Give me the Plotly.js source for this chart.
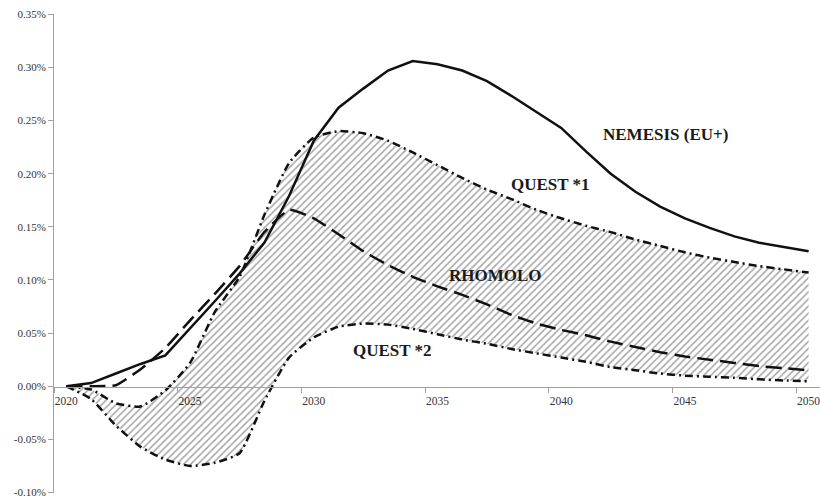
<!DOCTYPE html>
<html>
<head>
<meta charset="utf-8">
<script src="https://cdn.plot.ly/plotly-3.0.1.min.js"></script>
<style>
  html, body { margin: 0; padding: 0; background: #ffffff; }
  #chart { width: 820px; height: 500px; }
</style>
</head>
<body>
<div id="chart"></div>
<script>
// ---- Data (values in %) ----
const years = [2020, 2021, 2022, 2023, 2024, 2025, 2026, 2027, 2028, 2029,
               2030, 2031, 2032, 2033, 2034, 2035, 2036, 2037, 2038, 2039,
               2040, 2041, 2042, 2043, 2044, 2045, 2046, 2047, 2048, 2049, 2050];

const nemesis = [0.000, 0.003, 0.012, 0.021, 0.029, 0.054, 0.080, 0.106, 0.135, 0.179,
                 0.231, 0.262, 0.280, 0.297, 0.306, 0.303, 0.297, 0.287, 0.273, 0.258,
                 0.243, 0.221, 0.200, 0.183, 0.169, 0.158, 0.149, 0.141, 0.135, 0.131, 0.127];

const rhomolo = [0.000, 0.000, 0.001, 0.016, 0.036, 0.062, 0.087, 0.113, 0.145, 0.166,
                 0.158, 0.143, 0.127, 0.114, 0.103, 0.094, 0.086, 0.077, 0.067, 0.059,
                 0.053, 0.048, 0.042, 0.037, 0.032, 0.028, 0.025, 0.022, 0.019, 0.017, 0.015];

const quest1 = [0.000, -0.003, -0.016, -0.019, -0.004, 0.022, 0.070, 0.103, 0.161, 0.210,
                0.234, 0.240, 0.238, 0.231, 0.220, 0.208, 0.196, 0.185, 0.176, 0.166,
                0.158, 0.151, 0.145, 0.138, 0.132, 0.126, 0.121, 0.117, 0.113, 0.110, 0.107];

const quest2 = [0.000, -0.012, -0.037, -0.057, -0.069, -0.075, -0.072, -0.063, -0.014, 0.027,
                0.046, 0.056, 0.059, 0.058, 0.054, 0.049, 0.044, 0.040, 0.035, 0.031,
                0.027, 0.023, 0.018, 0.015, 0.012, 0.010, 0.009, 0.008, 0.0065, 0.0055, 0.0047];

const yTickVals = [-0.10, -0.05, 0.00, 0.05, 0.10, 0.15, 0.20, 0.25, 0.30, 0.35];
const yTickText = ['-0.10%', '-0.05%', '0.00%', '0.05%', '0.10%', '0.15%', '0.20%', '0.25%', '0.30%', '0.35%'];

// Series labels: [text, category index position, value position]
const seriesLabels = [
  ['NEMESIS (EU+)', 24.2, 0.237],
  ['QUEST *1', 19.55, 0.190],
  ['RHOMOLO', 17.35, 0.104],
  ['QUEST *2', 13.2, 0.034]
];

const dashDot = '8px,4px,2px,4px';
const serif = '"Liberation Serif", "Times New Roman", serif';

const traces = [
  {
    x: years, y: quest2, type: 'scatter', mode: 'lines',
    line: { color: '#111111', width: 2.5, dash: dashDot, shape: 'spline', smoothing: 0.5 },
    hoverinfo: 'skip'
  },
  {
    x: years, y: quest1, type: 'scatter', mode: 'lines',
    fill: 'tonexty',
    fillcolor: 'rgba(255,255,255,0)',
    fillpattern: { shape: '/', fgcolor: '#a6a6a6', bgcolor: '#ffffff', size: 5, solidity: 0.3 },
    line: { color: '#111111', width: 2.5, dash: dashDot, shape: 'spline', smoothing: 0.5 },
    hoverinfo: 'skip'
  },
  {
    x: years, y: rhomolo, type: 'scatter', mode: 'lines',
    line: { color: '#111111', width: 2.5, dash: '16px,7px', shape: 'spline', smoothing: 0.4 },
    hoverinfo: 'skip'
  },
  {
    x: years, y: nemesis, type: 'scatter', mode: 'lines',
    line: { color: '#111111', width: 2.5 },
    hoverinfo: 'skip'
  }
];

const layout = {
  width: 820, height: 500,
  margin: { l: 54, r: 0, t: 14, b: 7 },
  paper_bgcolor: '#ffffff',
  plot_bgcolor: '#ffffff',
  showlegend: false,
  hovermode: false,
  font: { family: serif, size: 11, color: '#333333' },
  xaxis: {
    type: 'category',
    range: [-0.5, 30.46],
    tickmode: 'linear', tick0: 0, dtick: 5,
    tickson: 'boundaries',
    tickangle: 0,
    anchor: 'free',
    position: 0.2222,
    showline: true, linecolor: '#a0a0a0', linewidth: 1,
    ticks: 'outside', ticklen: 5, tickcolor: '#a0a0a0',
    ticklabelstandoff: 4,
    showgrid: false, zeroline: false,
    tickfont: { family: serif, size: 11.5, color: '#333333' }
  },
  yaxis: {
    range: [-0.1004, 0.3502],
    tickmode: 'array', tickvals: yTickVals, ticktext: yTickText,
    ticklabeloverflow: 'allow',
    showline: true, linecolor: '#a0a0a0', linewidth: 1,
    ticks: 'outside', ticklen: 5, tickcolor: '#a0a0a0',
    showgrid: false, zeroline: false,
    tickfont: { family: serif, size: 11, color: '#333333' }
  },
  annotations: seriesLabels.map(function (d) {
    return {
      x: d[1], y: d[2], xref: 'x', yref: 'y',
      text: '<b>' + d[0] + '</b>',
      showarrow: false,
      xanchor: 'center', yanchor: 'middle',
      font: { family: serif, size: 17, color: '#1a1a1a' }
    };
  })
};

Plotly.newPlot('chart', traces, layout, { staticPlot: true, displayModeBar: false });
</script>
</body>
</html>
